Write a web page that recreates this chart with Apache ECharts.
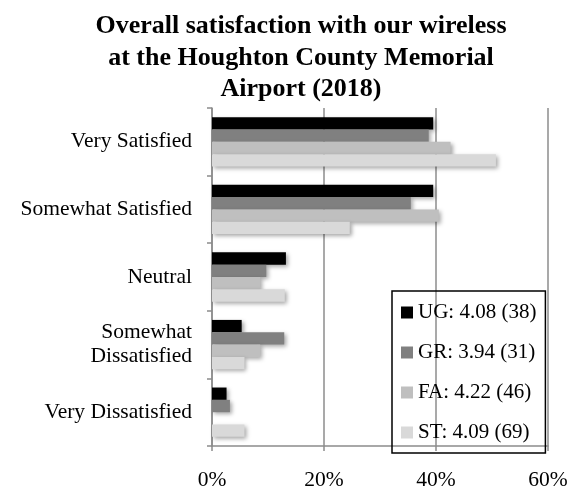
<!DOCTYPE html>
<html>
<head>
<meta charset="utf-8">
<script src="https://cdn.jsdelivr.net/npm/echarts@6/dist/echarts.min.js"></script>
<style>
  html, body { margin: 0; padding: 0; background: #fff; }
  #chart { width: 577px; height: 491px; }
</style>
</head>
<body>
<div id="chart"></div>
<script>
// survey answers, top to bottom
var categories = ["Very Satisfied", "Somewhat Satisfied", "Neutral", "Somewhat\nDissatisfied", "Very Dissatisfied"];
var seriesNames = ["UG: 4.08 (38)", "GR: 3.94 (31)", "FA: 4.22 (46)", "ST: 4.09 (69)"];
// percent of respondents
var ugValues = [39.5, 39.5, 13.2, 5.3, 2.6];
var grValues = [38.7, 35.5, 9.7, 12.9, 3.2];
var faValues = [42.6, 40.5, 8.6, 8.6, 0];
var stValues = [50.7, 24.6, 13.0, 5.8, 5.8];
var xTicks = [0, 20, 40, 60];

var colors = ["#000000", "#808080", "#bfbfbf", "#d9d9d9"];
var font = "Liberation Serif";

var chart = echarts.init(document.getElementById("chart"));

function makeSeries(name, data, i) {
  return {
    name: name,
    type: "bar",
    data: data,
    barGap: "0%",
    barCategoryGap: "27%",
    itemStyle: {
      color: colors[i],
      shadowColor: "rgba(0,0,0,0.35)",
      shadowBlur: 4,
      shadowOffsetX: 2,
      shadowOffsetY: 2,
    },
  };
}

chart.setOption({
  animation: false,
  title: {
    text: "Overall satisfaction with our wireless\nat the Houghton County Memorial\nAirport (2018)",
    left: 296,
    top: 6,
    textAlign: "center",
    textStyle: {
      fontFamily: font,
      fontWeight: "bold",
      fontSize: 26,
      lineHeight: 31.5,
      color: "#000",
    },
  },
  grid: {
    left: 212,
    right: 29,
    top: 108,
    bottom: 39,
    containLabel: false,
  },
  legend: {
    orient: "vertical",
    left: 392,
    top: 291,
    padding: [11, 9, 10, 9],
    itemGap: 19,
    itemWidth: 12,
    itemHeight: 12,
    icon: "rect",
    borderColor: "#000",
    borderWidth: 1.5,
    data: seriesNames,
    textStyle: {
      fontFamily: font,
      fontSize: 21,
      color: "#000",
      lineHeight: 20,
    },
  },
  xAxis: {
    type: "value",
    min: xTicks[0],
    max: xTicks[xTicks.length - 1],
    interval: 20,
    axisLine: { show: true, lineStyle: { color: "#8c8c8c", width: 1.5 } },
    axisTick: { show: true, length: 5, lineStyle: { color: "#8c8c8c", width: 1.5 } },
    splitLine: { show: true, lineStyle: { color: "#8c8c8c", width: 1.5 } },
    axisLabel: {
      formatter: "{value}%",
      margin: 23,
      fontFamily: font,
      fontSize: 21.5,
      color: "#000",
    },
  },
  yAxis: {
    type: "category",
    inverse: true,
    data: categories,
    axisLine: { show: true, lineStyle: { color: "#8c8c8c", width: 1.5 } },
    axisTick: { show: true, length: 5, lineStyle: { color: "#8c8c8c", width: 1.5 } },
    axisLabel: {
      margin: 20,
      fontFamily: font,
      fontSize: 21.5,
      lineHeight: 24.5,
      color: "#000",
    },
  },
  series: [
    makeSeries(seriesNames[0], ugValues, 0),
    makeSeries(seriesNames[1], grValues, 1),
    makeSeries(seriesNames[2], faValues, 2),
    makeSeries(seriesNames[3], stValues, 3),
  ],
});
</script>
</body>
</html>
